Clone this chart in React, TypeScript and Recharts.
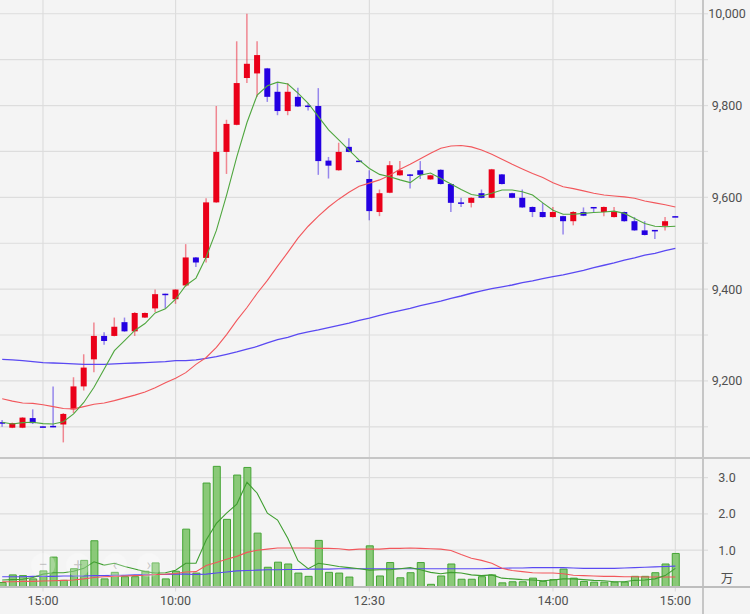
import React from 'react';
import { ComposedChart, Bar, Line, XAxis, YAxis, CartesianGrid } from 'recharts';

// ---- tick labels ----
const tickIndex = [4, 17, 36, 54, 66];
const tickLabels = ['15:00', '10:00', '12:30', '14:00', '15:00'];
const priceTicks = [9100, 9200, 9300, 9400, 9500, 9600, 9700, 9800, 9900, 10000];
const volTicks = [0.21, 1, 2, 3];

// ---- 5-minute OHLC ----
const open = [9110, 9098, 9098, 9119, 9101, 9102, 9105, 9138, 9188, 9247, 9298, 9298, 9328, 9308, 9338, 9358, 9390, 9378, 9408, 9469, 9468, 9589, 9699, 9758, 9860, 9870, 9881, 9830, 9788, 9819, 9800, 9799, 9680, 9659, 9710, 9680, 9640, 9568, 9610, 9648, 9650, 9659, 9639, 9660, 9629, 9589, 9588, 9609, 9599, 9650, 9609, 9599, 9579, 9568, 9557, 9559, 9548, 9568, 9579, 9568, 9557, 9568, 9548, 9528, 9529, 9538, 9559];
const high = [9115, 9109, 9121, 9138, 9101, 9188, 9130, 9208, 9258, 9327, 9306, 9338, 9338, 9350, 9349, 9399, 9390, 9400, 9498, 9470, 9598, 9799, 9769, 9940, 10000, 9940, 9882, 9849, 9849, 9839, 9805, 9838, 9688, 9719, 9729, 9680, 9659, 9617, 9679, 9679, 9651, 9679, 9649, 9661, 9630, 9599, 9600, 9617, 9662, 9651, 9610, 9617, 9580, 9588, 9579, 9560, 9570, 9578, 9579, 9580, 9579, 9569, 9557, 9548, 9529, 9557, 9559];
const low = [9100, 9097, 9097, 9106, 9099, 9099, 9066, 9130, 9179, 9219, 9279, 9297, 9307, 9298, 9337, 9350, 9358, 9368, 9405, 9448, 9458, 9588, 9651, 9757, 9849, 9819, 9808, 9779, 9779, 9797, 9789, 9649, 9641, 9658, 9698, 9678, 9550, 9559, 9609, 9647, 9619, 9640, 9638, 9628, 9568, 9579, 9578, 9598, 9598, 9628, 9598, 9577, 9557, 9556, 9556, 9519, 9539, 9559, 9568, 9559, 9556, 9547, 9527, 9517, 9509, 9528, 9557];
const close = [9108, 9108, 9120, 9108, 9100, 9100, 9128, 9188, 9229, 9298, 9287, 9318, 9308, 9348, 9348, 9389, 9388, 9399, 9469, 9458, 9589, 9699, 9760, 9849, 9891, 9910, 9819, 9788, 9830, 9798, 9798, 9679, 9669, 9699, 9699, 9679, 9570, 9609, 9670, 9659, 9649, 9649, 9648, 9629, 9588, 9588, 9599, 9599, 9661, 9629, 9599, 9578, 9568, 9557, 9568, 9548, 9568, 9560, 9578, 9579, 9568, 9548, 9528, 9518, 9528, 9548, 9558];

// ---- price moving averages ----
const ma5 = [9110, 9106, 9109, 9110, 9107, 9106, 9111, 9128, 9153, 9186, 9226, 9266, 9288, 9310, 9325, 9348, 9357, 9378, 9408, 9424, 9470, 9528, 9605, 9688, 9763, 9823, 9843, 9851, 9847, 9827, 9805, 9776, 9747, 9725, 9703, 9681, 9663, 9650, 9645, 9638, 9632, 9648, 9653, 9641, 9629, 9617, 9606, 9603, 9609, 9616, 9616, 9612, 9605, 9588, 9572, 9563, 9563, 9565, 9567, 9568, 9570, 9565, 9554, 9543, 9537, 9536, 9537];
const ma25 = [9161, 9156, 9152, 9151, 9148, 9144, 9140, 9139, 9144, 9149, 9152, 9157, 9163, 9169, 9176, 9185, 9196, 9206, 9218, 9236, 9251, 9273, 9301, 9332, 9360, 9391, 9419, 9450, 9480, 9511, 9537, 9559, 9579, 9596, 9611, 9624, 9631, 9638, 9648, 9661, 9672, 9684, 9696, 9707, 9712, 9713, 9710, 9703, 9694, 9683, 9672, 9662, 9652, 9643, 9632, 9623, 9619, 9614, 9609, 9605, 9603, 9601, 9598, 9592, 9588, 9584, 9579];
const ma75 = [9247, 9246, 9244, 9242, 9240, 9239, 9238, 9237, 9236, 9236, 9236, 9237, 9238, 9239, 9240, 9241, 9242, 9244, 9244, 9246, 9249, 9253, 9258, 9263, 9269, 9275, 9283, 9290, 9295, 9302, 9307, 9311, 9316, 9321, 9326, 9332, 9337, 9343, 9348, 9353, 9358, 9364, 9369, 9374, 9380, 9385, 9391, 9396, 9401, 9405, 9409, 9414, 9418, 9423, 9427, 9431, 9436, 9441, 9447, 9452, 9457, 9463, 9468, 9474, 9478, 9484, 9489];

// ---- volume (万株) and its moving averages ----
const volume = [0.11, 0.32, 0.30, 0.21, 0.43, 0.81, 0.17, 0.49, 0.72, 1.26, 0.21, 0.39, 0.27, 0.27, 0.42, 0.65, 0.21, 0.42, 1.58, 0.37, 2.85, 3.31, 1.85, 3.07, 3.28, 1.47, 0.53, 0.67, 0.62, 0.37, 0.28, 1.27, 0.39, 0.37, 0.26, 0, 1.12, 0.29, 0.66, 0.24, 0.38, 0.66, 0.06, 0.29, 0.62, 0.20, 0.20, 0.27, 0.32, 0.10, 0.13, 0.13, 0.23, 0.14, 0.19, 0.48, 0.23, 0.14, 0.12, 0.12, 0.12, 0.12, 0.28, 0.28, 0.38, 0.62, 0.91];
const vma5 = [0.18, 0.19, 0.20, 0.25, 0.34, 0.38, 0.38, 0.42, 0.50, 0.68, 0.59, 0.64, 0.55, 0.48, 0.41, 0.37, 0.38, 0.45, 0.64, 0.64, 1.28, 1.74, 2.02, 2.27, 2.87, 2.57, 2.02, 1.83, 1.33, 0.71, 0.49, 0.64, 0.60, 0.55, 0.52, 0.49, 0.45, 0.46, 0.46, 0.49, 0.52, 0.46, 0.39, 0.35, 0.39, 0.37, 0.32, 0.30, 0.32, 0.23, 0.21, 0.19, 0.18, 0.16, 0.18, 0.21, 0.21, 0.19, 0.17, 0.16, 0.13, 0.13, 0.17, 0.18, 0.21, 0.30, 0.50];
const vma25 = [0.13, 0.13, 0.14, 0.14, 0.15, 0.16, 0.17, 0.18, 0.21, 0.25, 0.27, 0.28, 0.29, 0.30, 0.31, 0.33, 0.34, 0.36, 0.40, 0.41, 0.58, 0.66, 0.75, 0.83, 0.94, 1.00, 1.03, 1.06, 1.06, 1.06, 1.06, 1.05, 1.05, 1.04, 1.01, 1.03, 1.03, 1.03, 1.05, 1.05, 1.06, 1.05, 1.04, 1.03, 0.99, 0.88, 0.78, 0.72, 0.64, 0.50, 0.44, 0.41, 0.38, 0.37, 0.37, 0.35, 0.31, 0.30, 0.29, 0.28, 0.28, 0.27, 0.27, 0.26, 0.26, 0.26, 0.26];
const vma75 = [0.27, 0.27, 0.27, 0.28, 0.28, 0.28, 0.29, 0.29, 0.29, 0.30, 0.30, 0.31, 0.31, 0.32, 0.32, 0.33, 0.33, 0.34, 0.34, 0.33, 0.34, 0.37, 0.40, 0.43, 0.44, 0.45, 0.46, 0.46, 0.47, 0.47, 0.48, 0.48, 0.48, 0.49, 0.49, 0.49, 0.49, 0.49, 0.49, 0.49, 0.49, 0.49, 0.49, 0.49, 0.49, 0.49, 0.49, 0.49, 0.50, 0.50, 0.51, 0.51, 0.52, 0.52, 0.52, 0.52, 0.51, 0.50, 0.50, 0.50, 0.50, 0.51, 0.52, 0.53, 0.54, 0.55, 0.56];

const priceData = open.map((o, i) => ({
  i,
  open: o,
  high: high[i],
  low: low[i],
  close: close[i],
  range: [low[i], high[i]],
  ma5: ma5[i],
  ma25: ma25[i],
  ma75: ma75[i],
}));

const volData = volume.map((v, i) => ({ i, vol: v, vma5: vma5[i], vma25: vma25[i], vma75: vma75[i] }));

const UP = '#ea0019';
const DOWN = '#2400e2';
const GRID = '#dddddd';
const FRAME = '#c6c6c6';
const TEXT = '#505050';
const FONT = "Roboto, 'Noto Sans CJK JP', sans-serif";
const X_DOMAIN: [number, number] = [-0.216, 68.71];

function Candle(props: any) {
  const { x, y, width, height, payload } = props;
  if (x == null || y == null || !payload) return null;
  const top = Math.min(y, y + height);
  const h = Math.abs(height);
  const span = payload.high - payload.low;
  const k = span > 0 ? h / span : 0;
  const up = payload.close > payload.open;
  const color = up ? UP : DOWN;
  const bodyTop = top + (payload.high - Math.max(payload.open, payload.close)) * k;
  let bodyH = Math.abs(payload.open - payload.close) * k;
  if (bodyH < 1.5) bodyH = 1.5;
  const cx = x + width / 2;
  return (
    <g>
      <line x1={cx} x2={cx} y1={top} y2={top + h} stroke={color} strokeOpacity={0.45} strokeWidth={1.5} />
      <rect x={x} y={bodyTop} width={width} height={bodyH} fill={color} />
    </g>
  );
}

function makeYTick(fmt: (v: number) => string, lineFor: (v: number) => boolean) {
  return (props: any) => {
    const { x, y, payload } = props;
    const v = payload.value;
    const label = fmt(v);
    return (
      <g>
        {lineFor(v) && <line x1={x - 6} x2={x - 1} y1={y} y2={y} stroke={GRID} strokeWidth={1.2} />}
        {label !== '' && (
          <text x={x + 18} y={y} dy="0.355em" textAnchor="middle" fill={TEXT} fontSize={12.5} fontFamily={FONT}>
            {label}
          </text>
        )}
      </g>
    );
  };
}

const PriceTick = makeYTick(
  (v) => (v % 200 === 0 ? v.toLocaleString('en-US') : ''),
  () => true
);
const VolTick = makeYTick(
  (v) => (v < 0.5 ? '万' : v.toFixed(1)),
  (v) => v >= 0.5
);

function NavButton({ left, symbol }: { left: number; symbol: string }) {
  return (
    <div
      style={{
        position: 'absolute',
        left: left - 12,
        top: 553,
        width: 24,
        height: 24,
        borderRadius: 12,
        background: 'rgba(255,255,255,0.25)',
        color: 'rgba(140,140,140,0.45)',
        fontFamily: FONT,
        fontSize: 16,
        lineHeight: '24px',
        textAlign: 'center',
      }}
    >
      {symbol}
    </div>
  );
}

export default function App() {
  return (
    <div style={{ position: 'absolute', left: 0, top: 0, width: 750, height: 614, background: '#f4f4f4', overflow: 'hidden' }}>
      <div style={{ position: 'absolute', left: 0, top: 0 }}>
        <ComposedChart width={750} height={458} data={priceData} margin={{ top: 0, right: 0, bottom: 0, left: 0 }}>
          <CartesianGrid stroke={GRID} strokeWidth={1.2} verticalValues={tickIndex} horizontalValues={priceTicks} />
          <XAxis type="number" dataKey="i" domain={X_DOMAIN} ticks={tickIndex} allowDataOverflow hide />
          <YAxis
            orientation="right"
            width={47}
            domain={[9032, 10030]}
            ticks={priceTicks}
            allowDataOverflow
            axisLine={false}
            tickLine={false}
            tickSize={5}
            tickMargin={1}
            tick={PriceTick}
            interval={0}
          />
          <Bar dataKey="range" barSize={6} shape={Candle} activeBar={false} isAnimationActive={false} />
          <Line type="linear" dataKey="ma75" stroke="#5a49f2" strokeWidth={1.3} dot={false} activeDot={false} isAnimationActive={false} />
          <Line type="linear" dataKey="ma25" stroke="#f2575c" strokeWidth={1.1} dot={false} activeDot={false} isAnimationActive={false} />
          <Line type="linear" dataKey="ma5" stroke="#4fa63e" strokeWidth={1.1} dot={false} activeDot={false} isAnimationActive={false} />
        </ComposedChart>
      </div>
      <div style={{ position: 'absolute', left: 0, top: 458 }}>
        <ComposedChart width={750} height={156} data={volData} margin={{ top: 0, right: 0, bottom: 0, left: 0 }}>
          <CartesianGrid stroke={GRID} strokeWidth={1.2} verticalValues={tickIndex} horizontalValues={[1, 2, 3]} />
          <XAxis
            type="number"
            dataKey="i"
            domain={X_DOMAIN}
            ticks={tickIndex}
            allowDataOverflow
            height={27.5}
            axisLine={false}
            tickSize={5}
            tickMargin={5}
            tickLine={{ stroke: GRID, strokeWidth: 1.2 }}
            tickFormatter={(v: number) => tickLabels[tickIndex.indexOf(v)] ?? ''}
            tick={{ fill: TEXT, fontSize: 12.5, fontFamily: FONT }}
            interval={0}
          />
          <YAxis
            orientation="right"
            width={47}
            domain={[0, 3.54]}
            ticks={volTicks}
            allowDataOverflow
            axisLine={false}
            tickLine={false}
            tickSize={5}
            tickMargin={1}
            tick={VolTick}
            interval={0}
          />
          <Bar dataKey="vol" barSize={7} fill="#7ec46a" fillOpacity={0.9} stroke="#45a535" strokeWidth={1} activeBar={false} isAnimationActive={false} />
          <Line type="linear" dataKey="vma75" stroke="#5a49f2" strokeWidth={1.1} dot={false} activeDot={false} isAnimationActive={false} />
          <Line type="linear" dataKey="vma25" stroke="#f2575c" strokeWidth={1.1} dot={false} activeDot={false} isAnimationActive={false} />
          <Line type="linear" dataKey="vma5" stroke="#3f9e30" strokeWidth={1.1} dot={false} activeDot={false} isAnimationActive={false} />
        </ComposedChart>
      </div>
      {/* panel frame */}
      <div style={{ position: 'absolute', left: 702, top: 0, width: 2, height: 614, background: FRAME }} />
      <div style={{ position: 'absolute', left: 0, top: 457, width: 750, height: 2, background: FRAME }} />
      <div style={{ position: 'absolute', left: 0, top: 586, width: 750, height: 1.5, background: '#bdbdbd' }} />
      <NavButton left={43} symbol="−" />
      <NavButton left={78} symbol="+" />
      <NavButton left={115} symbol="‹" />
      <NavButton left={149} symbol="›" />
    </div>
  );
}
